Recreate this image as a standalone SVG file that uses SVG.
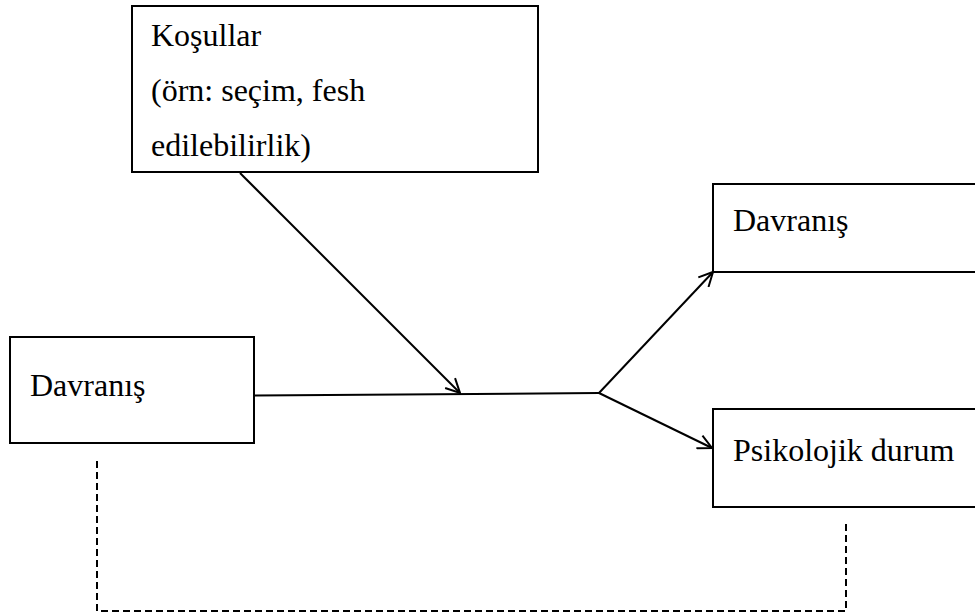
<svg xmlns="http://www.w3.org/2000/svg" width="975" height="616" viewBox="0 0 975 616">
<defs>
<style>
.box{fill:#fff;stroke:#000;stroke-width:2}
.t{font-size:32px;fill:#000}
.c{fill:none;stroke:#000;stroke-width:2}
.d{fill:none;stroke:#000;stroke-width:2;stroke-dasharray:7 4}
</style>
<marker id="ah" viewBox="0 0 16 16" refX="15" refY="8" markerWidth="16" markerHeight="16" markerUnits="userSpaceOnUse" orient="auto">
<path d="M1,1 L15,8 L1,15" fill="none" stroke="#000" stroke-width="2"/>
</marker>
</defs>
<rect width="975" height="616" fill="#fff"/>
<g font-family="Liberation Serif, Times New Roman, serif">
<g id="kosullar">
<rect class="box" x="132" y="6" width="406" height="166"/>
<text class="t" x="151" y="46">Koşullar</text>
<text class="t" x="151" y="101">(örn: seçim, fesh</text>
<text class="t" x="151" y="156">edilebilirlik)</text>
</g>
<g id="davranis-sol">
<rect class="box" x="10" y="337" width="244" height="106"/>
<text class="t" x="30" y="396">Davranış</text>
</g>
<g id="davranis-sag">
<rect class="box" x="713" y="184" width="280" height="88"/>
<text class="t" x="733" y="231">Davranış</text>
</g>
<g id="psikolojik">
<rect class="box" x="713" y="409" width="280" height="98"/>
<text class="t" x="733" y="461">Psikolojik durum</text>
</g>
</g>
<g id="connectors">
<line class="c" x1="255" y1="395.5" x2="599" y2="393"/>
<line class="c" x1="240" y1="173" x2="460" y2="393" marker-end="url(#ah)"/>
<line class="c" x1="599" y1="393" x2="713" y2="272" marker-end="url(#ah)"/>
<line class="c" x1="599" y1="393" x2="712" y2="448" marker-end="url(#ah)"/>
<polyline class="d" points="97,461 97,611 846,611 846,523"/>
</g>
</svg>
